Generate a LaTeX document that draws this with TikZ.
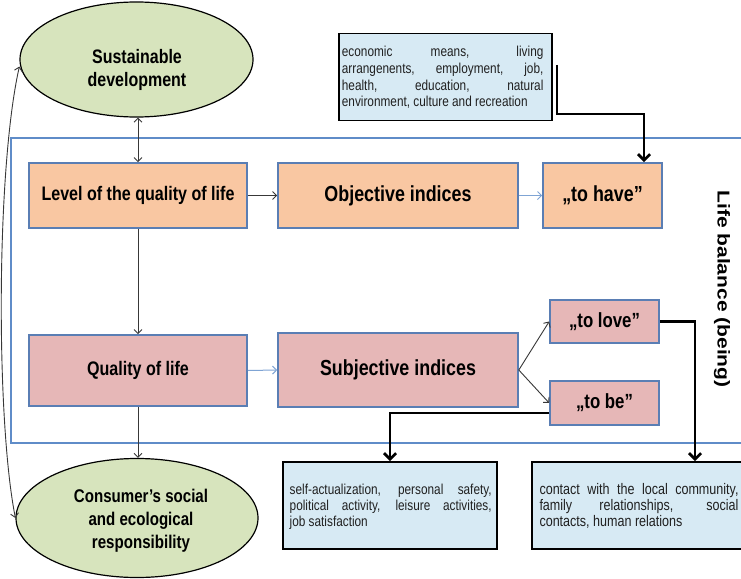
\documentclass[tikz,border=0pt]{standalone}
\usepackage{fontspec}
\usepackage{graphicx}
\setmainfont{Liberation Sans}[FakeStretch=0.82]
\newfontfamily\lbfont{Liberation Sans}
\usetikzlibrary{shapes.geometric,arrows.meta}
\definecolor{gfill}{HTML}{D7E4BD}
\definecolor{pfill}{HTML}{F9C7A2}
\definecolor{rfill}{HTML}{E6B7B7}
\definecolor{bfill}{HTML}{D7EAF4}
\definecolor{bborder}{HTML}{5A7EB4}
\definecolor{frame}{HTML}{5F8CC8}
\definecolor{lblue}{HTML}{7FA4D4}
\definecolor{dgray}{HTML}{383838}
\definecolor{tgray}{HTML}{202020}
\tikzset{
  ell/.style={ellipse, draw=black, line width=1.2pt, fill=gfill, inner sep=0pt},
  elltext/.style={align=center, inner sep=0pt, font=\fontsize{19.5}{23}\selectfont\bfseries},
  pbox/.style={rectangle, draw=bborder, line width=1.6pt, fill=pfill, inner sep=0pt, align=center},
  rbox/.style={rectangle, draw=bborder, line width=1.6pt, fill=rfill, inner sep=0pt, align=center},
  infobox/.style={rectangle, draw=black, line width=1.6pt, fill=bfill, inner sep=0pt},
  infotext/.style={inner sep=0pt, anchor=north west, align=justify, text=tgray},
  big/.style={font=\fontsize{21.8}{26}\selectfont\bfseries},
  mid/.style={font=\fontsize{19.6}{23}\selectfont\bfseries},
  thinarrow/.style={draw=dgray, line width=0.9pt, -{Straight Barb[length=4pt,width=8pt]}},
  bluearrow/.style={draw=lblue, line width=1pt, -{Straight Barb[length=4pt,width=8pt]}},
  thickarrow/.style={draw=black, line width=2.8pt, -{Straight Barb[length=6pt,width=12pt]}},
}
\begin{document}
\begin{tikzpicture}[x=1pt,y=-1pt]
\useasboundingbox (0,0) rectangle (741,578);
\fill[white] (0,0) rectangle (741,578);

% frame
\draw[frame, line width=1.3pt] (11,138) rectangle (760,443);

% ellipses
\node[ell, minimum width=233pt, minimum height=115pt] (sd) at (136.5,59.5) {};
\node[elltext] (sdt) at (137,70) {Sustainable\\development};
\node[ell, minimum width=242pt, minimum height=119pt] (cons) at (137,518) {};
\node[elltext, font=\fontsize{18.4}{23}\selectfont\bfseries] (const) at (141,521) {Consumer’s social\\and ecological\\responsibility};

% orange row
\node[pbox, mid, minimum width=218pt, minimum height=65pt] (lvl) at (138,195.5) {Level of the quality of life};
\node[pbox, big, minimum width=240pt, minimum height=65pt] (obj) at (398,195.5) {Objective indices};
\node[pbox, big, minimum width=119pt, minimum height=65pt] (have) at (602.5,195.5) {„to have”};

% pink row
\node[rbox, mid, minimum width=218pt, minimum height=71pt] (qol) at (138,370.5) {Quality of life};
\node[rbox, big, minimum width=240pt, minimum height=74pt] (subj) at (398,370) {Subjective indices};
\node[rbox, font=\fontsize{20.5}{24}\selectfont\bfseries, minimum width=109pt, minimum height=43pt] (love) at (604.5,321.5) {„to love”};
\node[rbox, font=\fontsize{20.5}{24}\selectfont\bfseries, minimum width=109pt, minimum height=44pt] (tobe) at (604.5,403) {„to be”};

% info boxes
\node[infobox, minimum width=212.5pt, minimum height=87pt] (econ) at (445.5,77) {};
\node[infotext, text width=201.5pt, font=\fontsize{14.4}{16.7}\selectfont] (econt) at (341.7,46.2)
  {economic means, living\linebreak arrangenents, employment, job,\linebreak health, education, natural\linebreak environment, culture and recreation};
\node[infobox, minimum width=214pt, minimum height=87pt] (self) at (390,505.5) {};
\node[infotext, text width=202pt, font=\fontsize{14.4}{16}\selectfont] (selft) at (289.5,483.5)
  {self-actualization, personal safety,\linebreak political activity, leisure activities,\linebreak job satisfaction};
\node[infobox, minimum width=230pt, minimum height=87pt, anchor=west] (cont) at (531,505.5) {};
\node[infotext, text width=199pt, font=\fontsize{15.3}{16.3}\selectfont] (contt) at (539.3,482.8)
  {contact with the local community,\linebreak family relationships, social\linebreak contacts, human relations};

% life balance
\node[rotate=-90, inner sep=0pt] (lb) at (722,289)
  {\lbfont\bfseries\fontsize{21}{25}\selectfont\scalebox{1}[0.82]{Life balance (being)}};

% thin connectors
\draw[thinarrow, {Straight Barb[length=4pt,width=8pt]}-{Straight Barb[length=4pt,width=8pt]}] (sd.south -| lvl.north) -- (lvl.north);
\draw[thinarrow] (lvl.east) -- (obj.west);
\draw[bluearrow] (obj.east) -- (have.west);
\draw[thinarrow] (lvl.south) -- (qol.north);
\draw[bluearrow] (qol.east) -- (subj.west);
\draw[thinarrow] (qol.south) -- (cons.north -| qol.south);
\draw[thinarrow] (subj.east) -- (love.west);
\draw[thinarrow] (subj.east) -- (tobe.west);

% curved connector
\draw[thinarrow, {Straight Barb[length=4pt,width=8pt]}-{Straight Barb[length=4pt,width=8pt]}]
  ([yshift=-7pt]sd.west) .. controls (-4,170) and (-4,420) .. (cons.west);

% thick connectors
\coordinate (e1) at (557,65);
\coordinate (e2) at (644,114);
\draw[thickarrow] (e1) |- (e2) -- (e2 |- have.north);
\draw[thickarrow] ([yshift=-10pt]tobe.west) -| (self.north);
\coordinate (c1) at (695,321.5);
\draw[thickarrow] (love.east) -- (c1) -- (c1 |- cont.north);
\end{tikzpicture}
\end{document}
